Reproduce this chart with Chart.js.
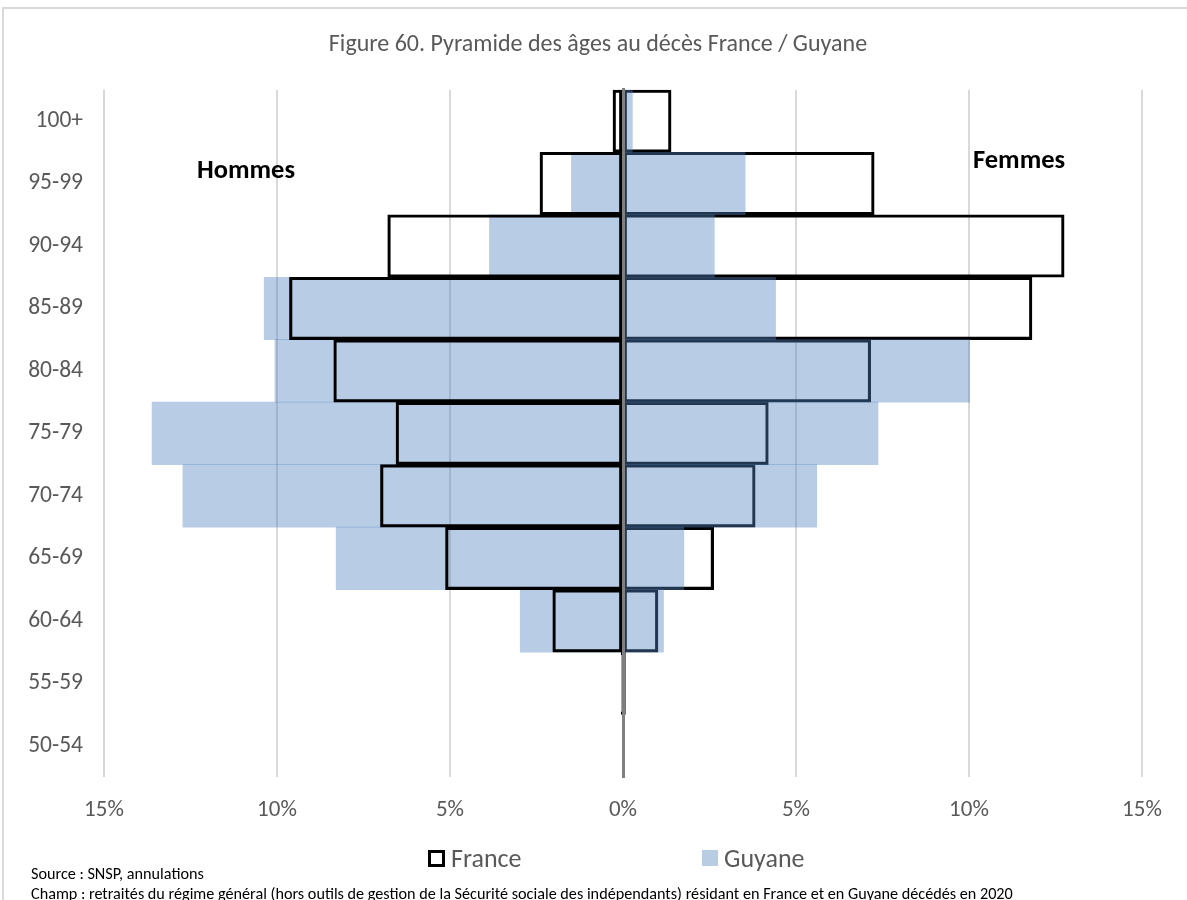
<!DOCTYPE html>
<html lang="fr">
<head>
<meta charset="utf-8">
<title>Pyramide des âges au décès France / Guyane</title>
<script src="https://cdn.jsdelivr.net/npm/chart.js@4.4.1/dist/chart.umd.min.js"></script>
<style>
  html, body { margin: 0; padding: 0; background: #fff; }
  body {
    width: 1187px; height: 900px; position: relative; overflow: hidden;
    font-family: Carlito, Calibri, Lato, sans-serif;
  }
  #frame {
    position: absolute; left: 2px; top: 7px; width: 1300px; height: 1000px;
    border: 2px solid #d9d9d9; box-sizing: border-box;
  }
  /* canvas un peu plus large que la page : le titre se centre sur le cadre */
  #wrap { position: absolute; left: 0; top: 0; width: 1196px; height: 900px; }
  .side { position: absolute; font-weight: bold; font-size: 26.5px; line-height: 32px; color: #000; }
  .legend { position: absolute; top: 842px; height: 32px; font-size: 26px; line-height: 32px; color: #595959; display: flex; align-items: center; }
  .legend .box { width: 11px; height: 11px; margin-right: 6px; }
  .note { position: absolute; left: 31px; font-size: 16.2px; line-height: 20px; color: #000; white-space: nowrap; }
</style>
</head>
<body>
<div id="frame"></div>
<div id="wrap"><canvas id="pyramide"></canvas></div>

<div class="side" style="left:197px; top:153px;">Hommes</div>
<div class="side" style="left:973px; top:143px;">Femmes</div>

<div class="legend" style="left:428px;"><span class="box" style="border:3px solid #000;"></span>France</div>
<div class="legend" style="left:702px;"><span class="box" style="width:16px;height:16px;background:#b8cce4;"></span>Guyane</div>

<div class="note" style="top:864px;">Source : SNSP, annulations</div>
<div class="note" style="top:884px;">Champ : retraités du régime général (hors outils de gestion de la Sécurité sociale des indépendants) résidant en France et en Guyane décédés en 2020</div>

<script>
// ── Données (part des décès, en %) ──
const ageGroups = ['100+', '95-99', '90-94', '85-89', '80-84', '75-79', '70-74', '65-69', '60-64', '55-59', '50-54'];

const franceHommes = [0.29, 2.40, 6.80, 9.64, 8.36, 6.56, 7.01, 5.13, 2.03, 0.05, 0];
const guyaneHommes = [0, 1.49, 3.86, 10.37, 10.06, 13.61, 12.72, 8.29, 2.97, 0, 0];
const franceFemmes = [1.39, 7.26, 12.75, 11.82, 7.16, 4.20, 3.82, 2.62, 1.01, 0.07, 0];
const guyaneFemmes = [0.27, 3.53, 2.64, 4.41, 10.02, 7.37, 5.60, 1.76, 1.17, 0, 0];

const xMin = -15;
const xMax = 15;
const xStep = 5;

// ── Styles communs ──
const tickColor = '#595959';
const gridColor = '#d9d9d9';
const fontFamily = "Carlito, Calibri, Lato, sans-serif";
const guyaneFill = 'rgba(83,132,193,0.41)';   // ≈ #b8cce4 sur blanc, bleu nuit sur noir

const negate = arr => arr.map(v => -v);

const barCommon = {
  grouped: false,
  barPercentage: 1,
  categoryPercentage: 1
};

const franceStyle = {
  ...barCommon,
  backgroundColor: 'rgba(0,0,0,0)',
  borderColor: '#000000',
  borderWidth: 2.5,
  borderSkipped: false
};

const guyaneStyle = {
  ...barCommon,
  backgroundColor: guyaneFill,
  borderWidth: 0
};

const ctx = document.getElementById('pyramide').getContext('2d');

new Chart(ctx, {
  type: 'bar',
  data: {
    labels: ageGroups,
    datasets: [
      // order bas = dessiné au-dessus
      { label: 'France', data: negate(franceHommes), order: 1, ...franceStyle },
      { label: 'Guyane', data: guyaneFemmes, order: 2, ...guyaneStyle },
      { label: 'Guyane', data: negate(guyaneHommes), order: 3, ...guyaneStyle },
      { label: 'France', data: franceFemmes, order: 4, ...franceStyle }
    ]
  },
  options: {
    indexAxis: 'y',
    responsive: true,
    maintainAspectRatio: false,
    animation: false,
    layout: {
      padding: { top: 0, left: 0, right: 0, bottom: 79 }
    },
    scales: {
      x: {
        min: xMin,
        max: xMax,
        grid: { color: gridColor, lineWidth: 2, drawTicks: false },
        border: { display: false },
        ticks: {
          stepSize: xStep,
          padding: 19,
          color: tickColor,
          font: { size: 23, family: fontFamily },
          callback(value) {
            return Math.abs(value) + '%';
          }
        },
        afterFit(scale) { scale.height = 44; }
      },
      y: {
        position: 'left',
        grid: { display: false, drawTicks: false },
        border: { display: false },
        ticks: {
          padding: 21,
          color: tickColor,
          font: { size: 23.5, family: fontFamily }
        },
        afterFit(scale) { scale.width = 104; }
      },
      // marge droite (axe vide) pour garder la zone du graphique à 1142 px
      yr: {
        type: 'category',
        position: 'right',
        grid: { display: false, drawTicks: false },
        border: { display: false },
        ticks: { display: false },
        afterFit(scale) { scale.width = 54; }
      },
      // axe central (0 %) dessiné au-dessus des barres
      yc: {
        type: 'category',
        position: { x: 0 },
        grid: { display: false, drawTicks: false },
        ticks: { display: false },
        border: { display: true, color: '#7f7f7f', width: 3, z: 1 }
      }
    },
    plugins: {
      legend: { display: false },
      tooltip: { enabled: false },
      title: {
        display: true,
        text: 'Figure 60. Pyramide des âges au décès France / Guyane',
        color: tickColor,
        font: { size: 24, weight: 'normal', family: fontFamily },
        padding: { top: 31, bottom: 30 }
      }
    }
  }
});
</script>
</body>
</html>
